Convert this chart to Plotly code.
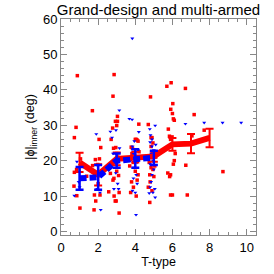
import plotly.graph_objects as go

# Red sample (grand-design) scatter
red_x = [0.88, 0.81, 0.72, 0.72, 0.70, 0.85, 1.02, 0.84, 1.05, 1.69, 1.38,
         2.05, 1.85, 1.98, 2.07, 1.70, 1.87, 1.80, 2.10, 1.78, 2.14, 2.00,
         2.86, 2.80, 3.04, 2.93, 3.04, 3.00, 2.78, 2.66, 2.57, 2.80, 2.85, 2.86, 2.92, 2.97,
         3.13, 2.83, 2.95, 3.00, 3.05, 3.10, 3.13, 3.00, 2.70,
         4.19, 4.00, 4.05, 3.78, 3.85, 4.10, 4.15, 3.82, 3.90, 4.00, 4.10, 3.80, 3.90,
         3.75, 4.15, 4.05, 3.95, 4.20, 3.70,
         4.70, 4.82, 4.85, 4.90, 4.95, 4.85, 4.90, 4.75, 4.85, 4.95, 4.78, 5.00, 4.80,
         4.70, 4.78, 5.05, 4.90, 5.10,
         5.93, 5.70, 6.02, 5.91, 6.00, 6.05, 6.10, 5.78, 5.84, 5.90, 5.98, 6.10, 6.05,
         5.75, 5.85, 5.90, 6.00, 5.90, 6.15,
         6.70, 7.17, 7.71, 6.72, 6.80, 7.05, 8.72]
red_y = [44.0, 29.4, 26.5, 16.7, 12.8, 10.1, 6.6, 17.5, 20.5, 34.1, 15.6,
         26.0, 20.3, 18.9, 20.5, 18.6, 8.6, 10.3, 10.3, 6.1, 23.7, 13.5,
         44.3, 38.2, 32.5, 31.1, 31.1, 29.9, 29.2, 16.4, 11.2, 14.5, 15.0, 10.0, 8.6, 8.6,
         5.2, 23.5, 23.7, 22.0, 21.0, 15.8, 11.0, 17.0, 26.0,
         30.3, 26.0, 26.0, 23.8, 23.5, 25.8, 25.5, 22.0, 19.5, 17.0, 14.5, 14.0, 12.5,
         11.0, 16.0, 10.0, 20.8, 22.5, 18.5,
         30.2, 38.0, 26.5, 26.5, 25.0, 24.0, 22.0, 19.5, 18.0, 17.5, 16.0, 15.5, 14.0,
         12.5, 8.2, 18.5, 11.5, 21.0,
         42.0, 41.0, 36.1, 34.5, 33.3, 31.8, 31.4, 28.9, 26.9, 26.0, 26.7, 20.0, 19.0,
         16.5, 15.5, 16.0, 10.3, 10.3, 22.0,
         40.4, 33.0, 28.6, 18.7, 10.3, 27.0, 16.9]

# Blue sample (multi-armed) scatter
blue_x = [3.14, 2.96, 2.66, 1.90, 3.84, 3.68, 3.83, 4.19, 2.75, 4.78, 4.82, 5.07, 4.90,
          6.70, 7.71, 8.70, 9.70, 0.86, 0.72, 2.14, 4.04, 5.07,
          3.85, 3.90, 4.00, 3.95, 4.05, 3.90, 4.10, 3.85, 4.00, 4.10, 3.75, 4.15, 3.95,
          4.80, 4.90, 5.00, 4.85, 4.95, 4.80, 5.00, 4.90, 4.85, 4.80, 5.05, 4.75, 4.95, 5.10,
          2.90, 3.00, 2.95, 3.05, 2.85, 3.10, 2.80, 3.15,
          2.00, 1.95, 2.10, 0.95, 1.00]
blue_y = [34.2, 28.6, 28.2, 27.5, 54.5, 31.8, 31.6, 28.1, 26.5, 28.9, 27.2, 29.9, 26.0,
          30.4, 30.7, 30.7, 30.7, 19.7, 10.1, 6.1, 4.7, 9.6,
          24.0, 22.0, 21.0, 18.0, 16.0, 15.0, 13.5, 11.5, 11.0, 19.5, 20.0, 23.0, 25.5,
          25.2, 24.0, 23.0, 22.0, 20.0, 19.0, 17.5, 16.0, 14.0, 12.5, 12.0, 10.8, 11.0, 24.5,
          20.0, 19.0, 16.5, 13.5, 12.0, 12.0, 22.0, 23.5,
          16.5, 12.0, 11.0, 14.0, 12.5]

# Binned means with errors
red_t = [1, 2, 3, 4, 5, 6, 7, 8]
red_mean = [19.5, 16.0, 20.5, 21.0, 21.2, 24.6, 24.8, 26.4]
red_err = [2.7, 3.0, 1.8, 1.5, 1.5, 1.8, 2.7, 2.6]

blue_t = [1, 2, 3, 4, 5]
blue_mean = [15.0, 15.3, 20.0, 20.6, 20.8]
blue_err = [3.2, 3.5, 2.0, 2.6, 2.0]

RED = "#ff0000"
BLUE = "#0000ff"
FONT = "Liberation Sans, Arial, sans-serif"

fig = go.Figure()
fig.add_trace(go.Scatter(x=red_x, y=red_y, mode="markers",
                         marker=dict(color=RED, size=3.5, symbol="square"),
                         showlegend=False))
fig.add_trace(go.Scatter(x=blue_x, y=blue_y, mode="markers",
                         marker=dict(color=BLUE, size=3.5, symbol="triangle-down"),
                         showlegend=False))
fig.add_trace(go.Scatter(x=red_t, y=red_mean, mode="lines",
                         line=dict(color=RED, width=6),
                         error_y=dict(type="data", array=red_err, color=RED,
                                      thickness=2, width=4),
                         showlegend=False))
fig.add_trace(go.Scatter(x=blue_t, y=blue_mean, mode="lines",
                         line=dict(color=BLUE, width=6, dash="7px,3px"),
                         error_y=dict(type="data", array=blue_err, color=BLUE,
                                      thickness=2.5, width=4),
                         showlegend=False))

axis_common = dict(
    showgrid=False, zeroline=False, showline=True, linecolor="#888888", linewidth=1,
    mirror="allticks", ticks="inside", tickcolor="#888888", ticklen=6, tickwidth=1,
    automargin=False,
    tickfont=dict(family=FONT, size=13, color="black"),
)

fig.update_xaxes(range=[0, 10.5], tickvals=[0, 2, 4, 6, 8, 10],
                 minor=dict(ticks="inside", dtick=0.5, ticklen=3, tickcolor="#888888",
                            showgrid=False),
                 title=dict(text="T-type", standoff=3,
                            font=dict(family=FONT, size=12.5, color="black")),
                 **axis_common)
fig.update_yaxes(range=[-1, 60], tickvals=[0, 10, 20, 30, 40, 50, 60],
                 minor=dict(ticks="inside", dtick=2, ticklen=3, tickcolor="#888888",
                            showgrid=False),
                 title=dict(text="|ϕ|<sub>inner</sub> (deg)", standoff=5,
                            font=dict(family=FONT, size=12.5, color="black")),
                 **axis_common)

fig.update_layout(
    width=274, height=274,
    margin=dict(l=61, r=18, t=19, b=39),
    plot_bgcolor="white", paper_bgcolor="white",
    title=dict(text="Grand-design and multi-armed", x=0.5, xref="paper",
               xanchor="center", y=0.982, yanchor="top",
               font=dict(family=FONT, size=15, color="black")),
)

fig.write_html("out.html", config={"displayModeBar": False},
               post_script="document.body.style.margin='0';")
